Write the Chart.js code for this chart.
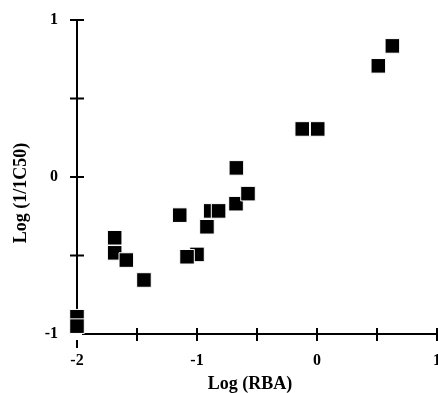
<!DOCTYPE html>
<html>
<head>
<meta charset="utf-8">
<script src="https://cdn.jsdelivr.net/npm/chart.js@4/dist/chart.umd.min.js"></script>
<style>
  html, body { margin: 0; padding: 0; background: #fff; }
  #wrap { width: 438px; height: 393px; position: relative; }
</style>
</head>
<body>
<div id="wrap"><canvas id="chart"></canvas></div>
<script>
'use strict';

// values: log relative binding affinity vs log(1/IC50)
const logRBA = [-2.0, -2.0, -1.686, -1.686, -1.589, -1.442, -1.144, -1.0, -1.083, -0.917, -0.886, -0.82, -0.675, -0.672, -0.575, -0.123, 0.006, 0.511, 0.628];
const logIC50 = [-0.89, -0.95, -0.387, -0.483, -0.529, -0.656, -0.243, -0.493, -0.508, -0.317, -0.216, -0.216, -0.17, 0.058, -0.106, 0.306, 0.306, 0.708, 0.835];

const xRange = [-2, 1];
const yRange = [-1, 1];
const tickStep = 0.5;
const xTitle = 'Log (RBA)';
const yTitle = 'Log (1/1C50)';

const FONT = '"Liberation Serif", "Times New Roman", serif';

const points = logRBA.map((x, i) => ({ x, y: logIC50[i] }));

// axes drawn by hand: lines that don't quite meet, ticks crossing the line
const axesPlugin = {
  id: 'axes',
  beforeDatasetsDraw(chart) {
    const { ctx, scales: { x, y } } = chart;
    const x0 = x.getPixelForValue(xRange[0]);
    const y0 = y.getPixelForValue(yRange[0]);
    ctx.save();
    ctx.strokeStyle = '#000';
    ctx.lineWidth = 2;
    ctx.beginPath();
    ctx.moveTo(x0, y.getPixelForValue(yRange[1]));
    ctx.lineTo(x0, y0 - 8);
    ctx.moveTo(x0 + 5, y0);
    ctx.lineTo(x.getPixelForValue(xRange[1]), y0);
    y.ticks.forEach(t => {
      const py = y.getPixelForValue(t.value);
      if (t.value === yRange[0]) return;
      ctx.moveTo(x0 - 7, py);
      ctx.lineTo(x0 + 7, py);
    });
    x.ticks.forEach(t => {
      const px = x.getPixelForValue(t.value);
      if (t.value === xRange[0]) {
        ctx.moveTo(px, y0 + 6);
        ctx.lineTo(px, y0 + 14);
        return;
      }
      ctx.moveTo(px, y0 - 6);
      ctx.lineTo(px, y0 + 7);
    });
    ctx.stroke();

    ctx.fillStyle = '#000';
    ctx.font = 'bold 18px ' + FONT;
    ctx.textAlign = 'center';
    ctx.textBaseline = 'middle';
    ctx.fillText(xTitle, 250, 384);
    ctx.translate(21, 193);
    ctx.rotate(-Math.PI / 2);
    ctx.fillText(yTitle, 0, 0);
    ctx.restore();
  }
};

const tickLabel = v => (Number.isInteger(v) ? String(v) : '');

new Chart(document.getElementById('chart'), {
  type: 'scatter',
  data: {
    datasets: [{
      data: points,
      clip: false,
      pointStyle: 'rect',
      pointRadius: 10.3,
      pointHoverRadius: 10.3,
      backgroundColor: '#000',
      borderColor: '#fff',
      borderWidth: 1
    }]
  },
  options: {
    responsive: true,
    maintainAspectRatio: false,
    animation: false,
    layout: { autoPadding: false, padding: { top: 20, right: 1, left: 0, bottom: 0 } },
    plugins: { legend: { display: false }, tooltip: { enabled: false } },
    scales: {
      x: {
        type: 'linear',
        min: xRange[0],
        max: xRange[1],
        grid: { display: false, drawTicks: false },
        border: { display: false },
        ticks: {
          stepSize: tickStep,
          autoSkip: false,
          maxRotation: 0,
          padding: 17,
          color: '#000',
          font: { family: FONT, size: 16, weight: 'bold' },
          callback: tickLabel
        },
        afterFit(scale) {
          scale.height = 59;
          scale.paddingLeft = 0;
          scale.paddingRight = 0;
        }
      },
      y: {
        type: 'linear',
        min: yRange[0],
        max: yRange[1],
        grid: { display: false, drawTicks: false },
        border: { display: false },
        ticks: {
          stepSize: tickStep,
          autoSkip: false,
          padding: 19,
          color: '#000',
          font: { family: FONT, size: 16, weight: 'bold' },
          callback: tickLabel
        },
        afterFit(scale) {
          scale.width = 77;
          scale.paddingTop = 0;
          scale.paddingBottom = 0;
        }
      }
    }
  },
  plugins: [axesPlugin]
});
</script>
</body>
</html>
